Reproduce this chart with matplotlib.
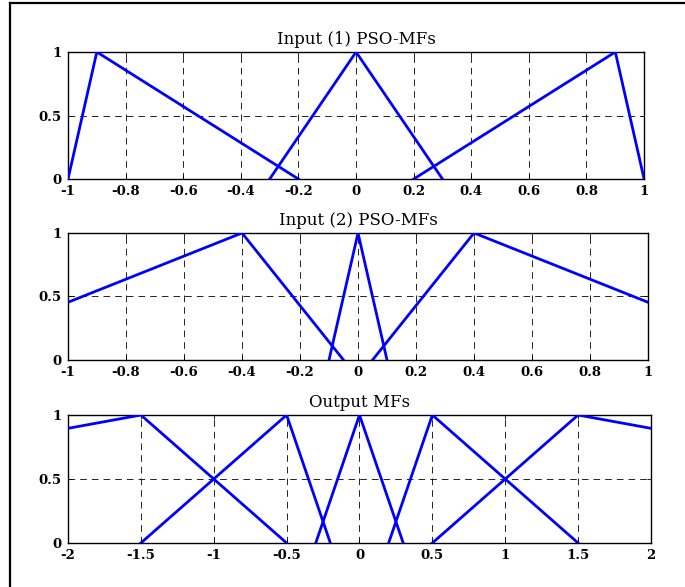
import matplotlib
matplotlib.use("Agg")
import matplotlib.pyplot as plt
from matplotlib.lines import Line2D

# ==============================================================
# DATOS (funciones de pertenencia triangulares [a, b, c])
# ==============================================================
TITULOS = ["Input (1) PSO-MFs", "Input (2) PSO-MFs", "Output MFs"]

MF_ENTRADA1 = [[-1.0, -0.9, -0.2], [-0.3, 0.0, 0.3], [0.2, 0.9, 1.0]]
MF_ENTRADA2 = [[-1.5, -0.4, -0.05], [-0.1, 0.0, 0.1], [0.05, 0.4, 1.5]]
MF_SALIDA = [[-6.3, -1.5, -0.5], [-1.5, -0.5, -0.2], [-0.3, 0.0, 0.3],
             [0.2, 0.5, 1.5], [0.5, 1.5, 6.3]]

RANGO_ENTRADA = (-1, 1)
RANGO_SALIDA = (-2, 2)

TICKS_ENTRADA = [-1, -0.8, -0.6, -0.4, -0.2, 0, 0.2, 0.4, 0.6, 0.8, 1]
ETIQ_ENTRADA = ["-1", "-0.8", "-0.6", "-0.4", "-0.2", "0", "0.2", "0.4", "0.6", "0.8", "1"]
TICKS_SALIDA = [-2, -1.5, -1, -0.5, 0, 0.5, 1, 1.5, 2]
ETIQ_SALIDA = ["-2", "-1.5", "-1", "-0.5", "0", "0.5", "1", "1.5", "2"]
TICKS_Y = [0, 0.5, 1]
ETIQ_Y = ["0", "0.5", "1"]

plt.rcParams['font.family'] = ['DejaVu Serif']
plt.rcParams['axes.unicode_minus'] = False


def graficar(ax, mfs, rango, ticks, etiquetas, titulo):
    for a, b, c in mfs:
        ax.plot([a, b, c], [0, 1, 0], color=(0, 0, 1), lw=2.0,
                solid_joinstyle='miter', zorder=3)
    ax.set_xlim(*rango)
    ax.set_ylim(0, 1)
    ax.set_xticks(ticks)
    ax.set_xticklabels(etiquetas, fontweight='bold', fontsize=9.5)
    ax.set_yticks(TICKS_Y)
    ax.set_yticklabels(ETIQ_Y, fontweight='bold', fontsize=9.5)
    ax.grid(True, color='black', linestyle=(0, (8, 6)), linewidth=0.6)
    ax.tick_params(axis='y', direction='in', length=3, width=0.6, pad=4.5,
                   right=True)
    ax.tick_params(axis='x', direction='in', length=3, width=0.6, pad=4,
                   top=True)
    for s in ax.spines.values():
        s.set_linewidth(1.0)
    ax.set_title(titulo, fontsize=12, pad=6)


fig = plt.figure(figsize=(6.85, 5.87), dpi=100)

ax1 = fig.add_axes([0.0993, 0.695, 0.841, 0.2164])
ax2 = fig.add_axes([0.0993, 0.3867, 0.8467, 0.2164])
ax3 = fig.add_axes([0.0993, 0.075, 0.851, 0.218])

graficar(ax1, MF_ENTRADA1, RANGO_ENTRADA, TICKS_ENTRADA, ETIQ_ENTRADA, TITULOS[0])
graficar(ax2, MF_ENTRADA2, RANGO_ENTRADA, TICKS_ENTRADA, ETIQ_ENTRADA, TITULOS[1])
graficar(ax3, MF_SALIDA, RANGO_SALIDA, TICKS_SALIDA, ETIQ_SALIDA, TITULOS[2])

# marco de la figura (solo izquierda y arriba visibles)
fig.add_artist(Line2D([10 / 685, 10 / 685], [0, 1 - 3 / 587], color='black', lw=1.6,
                      transform=fig.transFigure))
fig.add_artist(Line2D([10 / 685, 1], [1 - 3 / 587, 1 - 3 / 587], color='black', lw=1.6,
                      transform=fig.transFigure))

plt.savefig("out.png", dpi=100)
